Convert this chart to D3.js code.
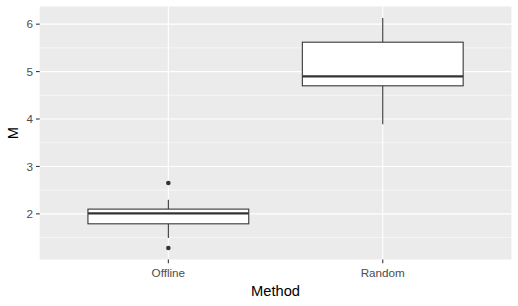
<!DOCTYPE html>
<html>
<head>
<meta charset="utf-8">
<script src="https://cdn.jsdelivr.net/npm/d3@7"></script>
<style>
  body { margin: 0; background: #fff; }
  text { font-family: "Liberation Sans", Arial, sans-serif; }
</style>
</head>
<body>
<div id="chart"></div>
<script>
// box statistics
var methods = ["Offline", "Random"];
var whiskerLow = [1.49, 3.89];
var lowerQ = [1.79, 4.70];
var medians = [2.01, 4.90];
var upperQ = [2.10, 5.62];
var whiskerHigh = [2.30, 6.13];
var outliers = [[1.28, 2.65], []];
var yTicks = [2, 3, 4, 5, 6];
var yMinor = [1.5, 2.5, 3.5, 4.5, 5.5];

var width = 518, height = 306;
var margin = {top: 6.5, right: 6.6, bottom: 46.5, left: 39.7};

var svg = d3.select("#chart")
	.append("svg")
	.attr("width", width)
	.attr("height", height);

var boxes = methods.map(function(m, i) {
	return {method: m, lo: whiskerLow[i], q1: lowerQ[i], med: medians[i], q3: upperQ[i], hi: whiskerHigh[i], out: outliers[i]};
});

// ggplot style 5% expansion on the continuous axis
var allVals = d3.merge([whiskerLow, whiskerHigh, d3.merge(outliers)]);
var lo = d3.min(allVals), hi = d3.max(allVals), pad = (hi - lo) * 0.05;

var y = d3.scaleLinear()
	.domain([lo - pad, hi + pad])
	.range([height - margin.bottom, margin.top]);

// discrete axis: 0.6 units of padding each side
var x = d3.scaleLinear()
	.domain([0.4, methods.length + 0.6])
	.range([margin.left, width - margin.right]);
var xPos = function(i) { return x(i + 1); };

// panel
svg.append("rect")
	.attr("x", margin.left)
	.attr("y", margin.top)
	.attr("width", width - margin.left - margin.right)
	.attr("height", height - margin.top - margin.bottom)
	.style("fill", "#EBEBEB");

svg.selectAll(".minor")
	.data(yMinor)
	.enter().append("line")
	.attr("x1", margin.left).attr("x2", width - margin.right)
	.attr("y1", function(d) { return y(d); }).attr("y2", function(d) { return y(d); })
	.style("stroke", "#fff").style("stroke-width", 0.55);

svg.selectAll(".major")
	.data(yTicks)
	.enter().append("line")
	.attr("x1", margin.left).attr("x2", width - margin.right)
	.attr("y1", function(d) { return y(d); }).attr("y2", function(d) { return y(d); })
	.style("stroke", "#fff").style("stroke-width", 1.1);

svg.selectAll(".vmajor")
	.data(methods)
	.enter().append("line")
	.attr("x1", function(d, i) { return xPos(i); }).attr("x2", function(d, i) { return xPos(i); })
	.attr("y1", margin.top).attr("y2", height - margin.bottom)
	.style("stroke", "#fff").style("stroke-width", 1.1);

// boxplots
var boxW = (x(1.75) - x(1.375)) * 2; // 0.75 units wide
var g = svg.selectAll(".box")
	.data(boxes)
	.enter().append("g")
	.attr("class", "box");

g.append("line")
	.attr("x1", function(d, i) { return xPos(i); }).attr("x2", function(d, i) { return xPos(i); })
	.attr("y1", function(d) { return y(d.q3); }).attr("y2", function(d) { return y(d.hi); })
	.style("stroke", "#333").style("stroke-width", 1.07);

g.append("line")
	.attr("x1", function(d, i) { return xPos(i); }).attr("x2", function(d, i) { return xPos(i); })
	.attr("y1", function(d) { return y(d.q1); }).attr("y2", function(d) { return y(d.lo); })
	.style("stroke", "#333").style("stroke-width", 1.07);

g.append("rect")
	.attr("x", function(d, i) { return xPos(i) - boxW / 2; })
	.attr("y", function(d) { return y(d.q3); })
	.attr("width", boxW)
	.attr("height", function(d) { return y(d.q1) - y(d.q3); })
	.style("fill", "#fff").style("stroke", "#333").style("stroke-width", 1.07);

g.append("line")
	.attr("x1", function(d, i) { return xPos(i) - boxW / 2; })
	.attr("x2", function(d, i) { return xPos(i) + boxW / 2; })
	.attr("y1", function(d) { return y(d.med); }).attr("y2", function(d) { return y(d.med); })
	.style("stroke", "#333").style("stroke-width", 2.1);

g.each(function(d, i) {
	d3.select(this).selectAll("circle")
		.data(d.out)
		.enter().append("circle")
		.attr("cx", xPos(i))
		.attr("cy", function(v) { return y(v); })
		.attr("r", 2.3)
		.style("fill", "#333");
});

// axes ticks and labels
var axisCol = "#4D4D4D";
svg.selectAll(".ytick")
	.data(yTicks)
	.enter().append("line")
	.attr("x1", margin.left - 3.7).attr("x2", margin.left)
	.attr("y1", function(d) { return y(d); }).attr("y2", function(d) { return y(d); })
	.style("stroke", "#333").style("stroke-width", 1.07);

svg.selectAll(".ylab")
	.data(yTicks)
	.enter().append("text")
	.attr("x", margin.left - 6.6)
	.attr("y", function(d) { return y(d); })
	.attr("dy", "0.36em")
	.attr("text-anchor", "end")
	.style("font-size", "11.7px")
	.style("fill", axisCol)
	.text(function(d) { return d; });

svg.selectAll(".xtick")
	.data(methods)
	.enter().append("line")
	.attr("x1", function(d, i) { return xPos(i); }).attr("x2", function(d, i) { return xPos(i); })
	.attr("y1", height - margin.bottom).attr("y2", height - margin.bottom + 3.7)
	.style("stroke", "#333").style("stroke-width", 1.07);

svg.selectAll(".xlab")
	.data(methods)
	.enter().append("text")
	.attr("x", function(d, i) { return xPos(i); })
	.attr("y", height - margin.bottom + 17.6)
	.attr("text-anchor", "middle")
	.style("font-size", "11.7px")
	.style("fill", axisCol)
	.text(function(d) { return d; });

// axis titles
svg.append("text")
	.attr("x", (margin.left + width - margin.right) / 2)
	.attr("y", 296)
	.attr("text-anchor", "middle")
	.style("font-size", "14.7px")
	.style("fill", "#000")
	.text("Method");

svg.append("text")
	.attr("transform", "translate(18," + ((margin.top + height - margin.bottom) / 2) + ") rotate(-90)")
	.attr("text-anchor", "middle")
	.style("font-size", "14.7px")
	.style("fill", "#000")
	.text("M");
</script>
</body>
</html>
